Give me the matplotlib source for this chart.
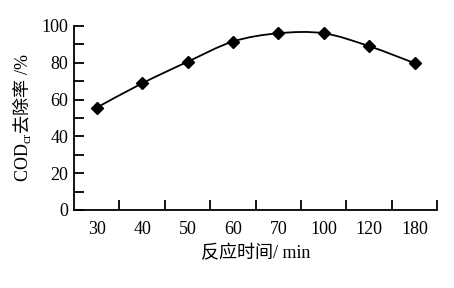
import numpy as np
import matplotlib.pyplot as plt
from matplotlib.path import Path
from matplotlib.patches import PathPatch
from matplotlib.ticker import FixedLocator, MultipleLocator

plt.rcParams['font.family'] = ['Liberation Serif', 'Noto Sans CJK SC']
plt.rcParams['mathtext.fontset'] = 'custom'
plt.rcParams['mathtext.rm'] = 'Noto Sans CJK SC'
plt.rcParams['mathtext.sf'] = 'Liberation Serif'

time_labels = ['30', '40', '50', '60', '70', '100', '120', '180']
removal = [55.6, 68.8, 80.5, 91.5, 96.0, 96.0, 89.0, 79.8]


def smooth_path(xs, ys):
    # Catmull-Rom through the points, written as cubic Bezier segments
    pts = np.column_stack([xs, ys]).astype(float)
    verts = [pts[0]]
    codes = [Path.MOVETO]
    n = len(pts)
    for i in range(n - 1):
        p0 = pts[max(i - 1, 0)]
        p1 = pts[i]
        p2 = pts[i + 1]
        p3 = pts[min(i + 2, n - 1)]
        c1 = p1 + (p2 - p0) / 6.0
        c2 = p2 - (p3 - p1) / 6.0
        verts += [c1, c2, p2]
        codes += [Path.CURVE4] * 3
    return Path(verts, codes)


fig = plt.figure(figsize=(4.54, 2.88), dpi=100)
ax = fig.add_axes([0.163, 0.271, 0.8, 0.639])

x = np.arange(len(time_labels))
ax.add_patch(PathPatch(smooth_path(x, removal), fill=False, lw=1.3, color='black'))
ax.plot(x, removal, ls='none', marker='D', ms=6.5, color='black')

ax.set_xlim(-0.5, len(time_labels) - 0.5)
ax.set_ylim(0, 100)
ax.spines['top'].set_visible(False)
ax.spines['right'].set_visible(False)
for s in ['left', 'bottom']:
    ax.spines[s].set_linewidth(1.3)

ax.set_xticks(x)
ax.set_xticklabels(time_labels, fontsize=13)
ax.xaxis.set_minor_locator(FixedLocator(np.arange(0.5, len(time_labels), 1.0)))
ax.tick_params(axis='x', which='major', length=0, pad=8)
ax.tick_params(axis='x', which='minor', direction='in', length=7, width=1.3)

ax.set_yticks([0, 20, 40, 60, 80, 100])
ax.yaxis.set_minor_locator(MultipleLocator(10))
ax.tick_params(axis='y', which='both', direction='in', length=7, width=1.3, labelsize=13, pad=4)

ax.set_xlabel('反应时间/ min', fontsize=13, labelpad=5)
ax.set_ylabel('COD$_{\\mathsf{cr}}\\mathrm{去除率}$ /%', fontsize=13, labelpad=6)

fig.savefig('out.png', dpi=100)
